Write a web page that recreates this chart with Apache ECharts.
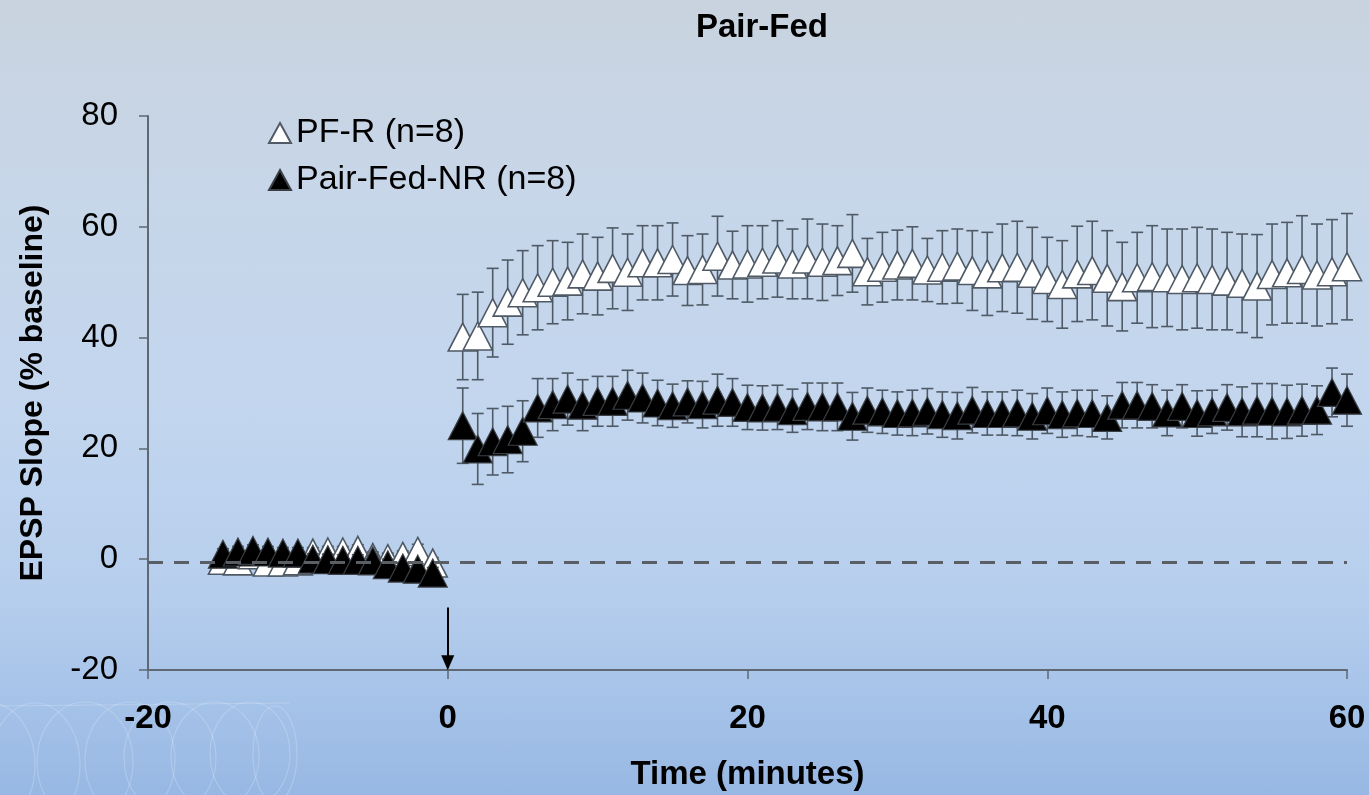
<!DOCTYPE html>
<html>
<head>
<meta charset="utf-8">
<script src="https://cdn.jsdelivr.net/npm/echarts@6/dist/echarts.min.js"></script>
<style>
html,body{margin:0;padding:0;}
body{width:1369px;height:795px;background:linear-gradient(to bottom,#c9d3df 0%,#c7d6e9 25%,#c3d6ee 50%,#b6ceed 75%,#97b8e4 100%);}
#chart{width:1369px;height:795px;}
</style>
</head>
<body>
<div id="chart"></div>
<script>
// ---- data ----
var time = [-15,-14,-13,-12,-11,-10,-9,-8,-7,-6,-5,-4,-3,-2,-1,
  1,2,3,4,5,6,7,8,9,10,11,12,13,14,15,16,17,18,19,20,
  21,22,23,24,25,26,27,28,29,30,31,32,33,34,35,36,37,38,39,40,
  41,42,43,44,45,46,47,48,49,50,51,52,53,54,55,56,57,58,59,60];

var pfrMean = [-0.2,-0.3,0.8,-0.5,-0.5,-0.3,1.1,1.3,1.3,1.6,0.3,0.1,0.5,1.4,-0.7,
  40.1,40.3,44.5,46.4,48.1,49.0,50.0,50.2,51.5,51.1,52.5,51.8,53.5,53.5,54.1,52.1,52.3,54.7,53.1,53.3,
  53.6,54.2,53.3,54.2,53.6,53.9,55.2,51.9,52.7,53.1,53.4,52.2,52.7,52.9,52.1,51.5,52.6,52.7,51.6,50.5,
  49.6,51.5,52.1,50.7,49.2,50.8,51.0,50.8,50.5,50.8,50.5,50.2,49.8,49.3,51.4,51.7,52.3,51.3,51.9,52.8];

var pfrSem = [1.0,1.0,1.0,1.0,1.0,1.0,1.0,1.0,1.0,1.0,1.0,1.0,1.0,1.3,1.0,
  7.7,7.9,8.0,7.6,7.6,7.6,7.5,7.0,7.2,7.0,7.3,6.9,6.7,6.7,6.6,6.3,6.4,7.2,6.1,6.9,
  6.6,6.9,6.3,7.2,6.9,6.3,7.0,6.0,6.3,6.3,6.6,5.7,6.6,6.7,7.2,7.5,7.9,8.3,8.3,7.6,
  7.9,8.6,8.9,8.6,8.0,8.2,9.2,8.8,9.1,9.1,9.1,8.8,8.9,9.3,9.1,9.1,9.7,9.2,9.4,9.6];

var nrMean = [0.9,1.3,1.6,1.3,1.1,1.1,0.0,-0.1,-0.2,-0.2,-0.3,-1.0,-1.6,-1.8,-2.5,
  24.1,19.9,21.2,21.6,23.1,27.3,27.9,28.9,27.8,28.5,28.5,29.6,29.1,28.2,27.7,28.4,27.9,28.7,28.3,27.4,
  27.3,27.4,26.8,27.6,27.5,27.5,25.8,26.9,26.6,26.3,26.4,26.7,26.1,25.9,26.9,26.3,26.3,26.4,25.8,26.8,
  26.1,26.4,26.3,25.6,27.8,27.8,27.6,26.4,27.6,26.3,26.6,27.4,26.6,26.9,26.7,26.6,26.9,26.9,30.1,28.7];

var nrSem = [1.0,1.0,1.0,1.0,1.0,1.0,1.0,1.0,1.0,1.0,1.0,1.0,1.0,1.0,1.0,
  6.8,6.4,6.0,6.0,5.5,5.3,4.7,4.7,4.6,4.5,4.5,4.5,4.5,4.1,3.9,3.8,4.2,4.7,4.3,4.0,
  4.0,4.0,3.9,4.2,4.3,4.3,4.3,4.0,3.9,3.9,4.1,4.1,4.1,4.2,4.1,3.9,3.9,4.1,4.1,4.1,
  4.1,4.1,4.2,3.9,4.1,4.1,3.9,4.1,3.9,4.1,3.9,4.1,4.5,4.8,5.0,4.8,4.7,4.4,4.4,4.7];

var xTicks = [-20, 0, 20, 40, 60];
var yTicks = [-20, 0, 20, 40, 60, 80];
var seriesNames = ['PF-R (n=8)', 'Pair-Fed-NR (n=8)'];
var stimulusTime = 0;
var baselineLevel = -0.5;
var arrowFrom = -8.7, arrowTo = -18.7;

// ---- build ----
function pts(mean){ return time.map(function(t,i){ return [t, mean[i]]; }); }
function errs(mean, sem){ return time.map(function(t,i){ return [t, mean[i]-sem[i], mean[i]+sem[i]]; }); }

function errRender(params, api){
  var x = api.value(0), lo = api.value(1), hi = api.value(2);
  var top = api.coord([x, hi]), bot = api.coord([x, lo]);
  var hw = 6;
  var st = {stroke:'#4f5a66', lineWidth:1.6};
  return {type:'group', children:[
    {type:'line', shape:{x1:top[0],y1:top[1],x2:bot[0],y2:bot[1]}, style:st},
    {type:'line', shape:{x1:top[0]-hw,y1:top[1],x2:top[0]+hw,y2:top[1]}, style:st},
    {type:'line', shape:{x1:bot[0]-hw,y1:bot[1],x2:bot[0]+hw,y2:bot[1]}, style:st}
  ]};
}

var font = 'Liberation Sans, Arial, sans-serif';
var chart = echarts.init(document.getElementById('chart'), null, {renderer:'canvas'});

var swirls = [];
[[-10,765,45,62],[35,765,45,62],[85,762,48,60],[130,760,45,58],[170,758,46,56],[215,756,44,54],[250,754,40,52],[275,754,22,48]].forEach(function(e){
  swirls.push({type:'ellipse', shape:{cx:e[0],cy:e[1],rx:e[2],ry:e[3]}, style:{fill:'none', stroke:'rgba(255,255,255,0.2)', lineWidth:1.2}, silent:true, z:-1});
});
swirls.push({type:'line', shape:{x1:0,y1:706,x2:290,y2:703}, style:{stroke:'rgba(255,255,255,0.2)', lineWidth:1.2}, silent:true, z:-1});

chart.setOption({
  backgroundColor:'transparent',
  animation:false,
  graphic: swirls,
  title:{
    text:'Pair-Fed', left:757, top:6, textAlign:'center',
    textStyle:{fontFamily:font, fontSize:33, fontWeight:'bold', color:'#000'}
  },
  legend:{
    data:seriesNames, orient:'vertical', left:268, top:116, padding:0,
    icon:'triangle', itemWidth:22, itemHeight:20, itemGap:13,
    textStyle:{fontFamily:font, fontSize:34, color:'#000'}
  },
  grid:{left:148, right:22, top:116, bottom:125, containLabel:false, outerBoundsMode:'none'},
  xAxis:{
    type:'value', min:-20, max:60, interval:20,
    name:'Time (minutes)', nameLocation:'middle', nameGap:88,
    nameTextStyle:{fontFamily:font, fontSize:33, fontWeight:'bold', color:'#000'},
    axisLine:{onZero:false, lineStyle:{color:'#5f6873', width:2}},
    axisTick:{show:true, inside:false, length:9, lineStyle:{color:'#5f6873', width:1.5}},
    axisLabel:{fontFamily:font, fontSize:33, fontWeight:'bold', color:'#000', margin:32},
    splitLine:{show:false}
  },
  yAxis:{
    type:'value', min:-20, max:80, interval:20,
    name:'EPSP Slope (% baseline)', nameLocation:'middle', nameGap:99,
    nameTextStyle:{fontFamily:font, fontSize:32, fontWeight:'bold', color:'#000'},
    axisLine:{show:true, onZero:false, lineStyle:{color:'#5f6873', width:2}},
    axisTick:{show:true, inside:false, length:9, lineStyle:{color:'#5f6873', width:1.5}},
    axisLabel:{fontFamily:font, fontSize:33, color:'#000', margin:30},
    splitLine:{show:false}
  },
  series:[
    {
      type:'scatter', name:'_ref', data:[], silent:true, z:0,
      markLine:{
        silent:true, animation:false,
        data:[
          [{coord:[-20,baselineLevel], symbol:'none', lineStyle:{color:'#5a5f66', width:3, type:[15,11]}},
           {coord:[60,baselineLevel], symbol:'none'}],
          [{coord:[stimulusTime,arrowFrom], symbol:'none', lineStyle:{color:'#000', width:2, type:'solid'}},
           {coord:[stimulusTime,arrowTo], symbol:'triangle', symbolSize:[13,15]}]
        ],
        label:{show:false}
      }
    },
    {
      type:'custom', name:'pfrErr', data:errs(pfrMean,pfrSem), renderItem:errRender,
      encode:{x:0, y:[1,2]}, z:1, silent:true
    },
    {
      type:'scatter', name:seriesNames[0], data:pts(pfrMean), symbol:'triangle', symbolSize:[29,28], z:2,
      itemStyle:{color:'#ffffff', borderColor:'#4f5a66', borderWidth:1.6, opacity:1}
    },
    {
      type:'custom', name:'nrErr', data:errs(nrMean,nrSem), renderItem:errRender,
      encode:{x:0, y:[1,2]}, z:3, silent:true
    },
    {
      type:'scatter', name:seriesNames[1], data:pts(nrMean), symbol:'triangle', symbolSize:[29,28], z:4,
      itemStyle:{color:'#000000', borderColor:'#3a3f45', borderWidth:1.2, opacity:1}
    }
  ]
});
</script>
</body>
</html>
